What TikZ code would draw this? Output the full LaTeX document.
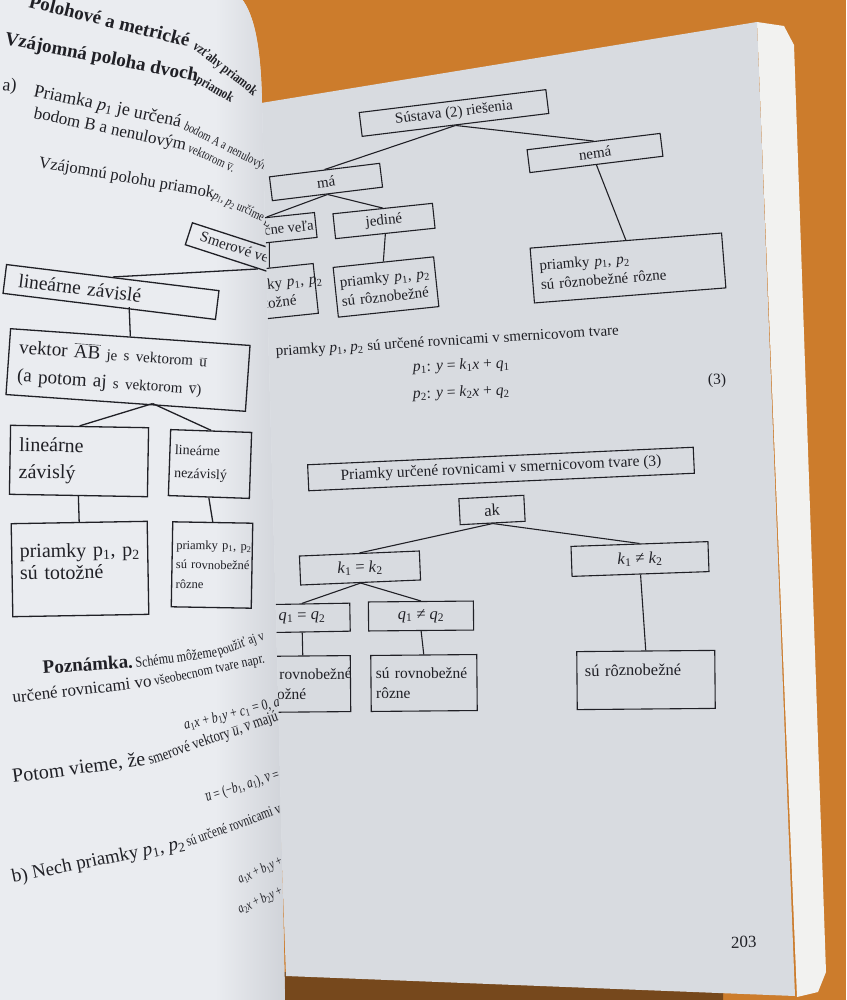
\documentclass[tikz,border=0pt]{standalone}
\usepackage{fontspec}
\setmainfont{Liberation Serif}
\usetikzlibrary{positioning}

\definecolor{wood}{RGB}{204,124,44}
\definecolor{wooddark}{RGB}{118,72,28}
\definecolor{rightpaper}{RGB}{216,219,224}
\definecolor{leftpaper}{RGB}{234,236,240}
\definecolor{leftedge}{RGB}{206,209,215}
\definecolor{pagestack}{RGB}{242,242,240}
\definecolor{ink}{RGB}{32,32,38}

\newcommand\fsz[2]{\fontsize{#1}{#2}\selectfont}
\newcommand\mv[2]{\textit{#1}\textsubscript{#2}}
\newcommand\vecbar[1]{$\overline{\mbox{#1}}$}

\begin{document}
\begin{tikzpicture}[
  x=1pt, y=-1pt,
  rbox/.style={draw=ink, line width=1.1pt, text=ink, inner sep=2pt},
  lbox/.style={draw=ink, line width=1.3pt, text=ink, inner sep=2pt},
  tie/.style={draw=ink, line width=1.1pt},
  ltie/.style={draw=ink, line width=1.3pt},
  rtxt/.style={text=ink, inner sep=0pt, anchor=base west},
  ltxt/.style={text=ink, inner sep=0pt, anchor=base west}
]
  \useasboundingbox (0,0) rectangle (846,1000);

  % Table and book block
  \fill[wood] (0,0) rectangle (846,1000);
  \fill[wooddark] (280,972) -- (723,990) -- (723,1000) -- (280,1000) -- cycle;
  \fill[pagestack] (757,22) -- (784,26) -- (794,45) -- (826,972) -- (818,992) -- (797,997) -- cycle;
  \fill[rightpaper] (255,104) -- (757,22) -- (795,996) -- (286,976) -- cycle;

  % Right page: top tree
  \node[rbox, rotate=7, minimum width=188, minimum height=24, font=\fsz{15}{18}] (sus) at (454,113) {Sústava (2) riešenia};
  \node[rbox, rotate=7, minimum width=134, minimum height=23, font=\fsz{15}{18}] (nema) at (595,153) {nemá};
  \node[rbox, rotate=7, minimum width=111, minimum height=24, font=\fsz{15}{18}] (ma) at (326,182) {má};
  \node[rbox, rotate=6, minimum width=96, minimum height=25, font=\fsz{14.5}{18}] (vela) at (268,230) {nekonečne veľa};
  \node[rbox, rotate=6, minimum width=100, minimum height=25, font=\fsz{15}{18}] (jed) at (384,221) {jediné};
  \node[rbox, rotate=6, minimum width=88, minimum height=50, inner xsep=5, text width=78, align=left, font=\fsz{15}{19}] (totr) at (272,293) {\mbox{priamky \mv{p}{1}, \mv{p}{2}}\\\mbox{sú totožné}};
  \node[rbox, rotate=6, minimum width=101, minimum height=50, inner xsep=5, text width=91, align=left, font=\fsz{15}{19}] (roz) at (386,287) {\mbox{priamky \mv{p}{1}, \mv{p}{2}}\\\mbox{sú rôznobežné}};
  \node[rbox, rotate=4.5, minimum width=192, minimum height=55, inner xsep=8, text width=176, align=left, font=\fsz{15}{19}] (rozr) at (628,268) {\mbox{priamky \mv{p}{1}, \mv{p}{2}}\\\mbox{sú rôznobežné rôzne}};

  \draw[tie] (sus.south) -- (ma.north);
  \draw[tie] (sus.south) -- (nema.north);
  \draw[tie] (ma.south) -- (vela.north);
  \draw[tie] (ma.south) -- (jed.north);
  \draw[tie] (vela.south) -- (totr.north);
  \draw[tie] (jed.south) -- (roz.north);
  \draw[tie] (nema.south) -- (rozr.north);

  % Right page: equations (3)
  \node[rtxt, rotate=3.5, font=\fsz{15}{18}] (intro) at (276,356) {priamky \mv{p}{1}, \mv{p}{2} sú určené rovnicami v smernicovom tvare};
  \node[rtxt, rotate=2.5, font=\fsz{15.5}{18}] (eqa) at (413,372) {\mv{p}{1}: \textit{y} = \mv{k}{1}\textit{x} + \mv{q}{1}};
  \node[rtxt, rotate=2.5, font=\fsz{15.5}{18}] (eqb) at (413,399) {\mv{p}{2}: \textit{y} = \mv{k}{2}\textit{x} + \mv{q}{2}};
  \node[rtxt, rotate=2.5, font=\fsz{15.5}{18}] (eqnum) at (708,385) {(3)};

  % Right page: bottom tree
  \node[rbox, rotate=2.6, minimum width=386, minimum height=26, font=\fsz{15.5}{18}] (smer3) at (501,469) {Priamky určené rovnicami v smernicovom tvare (3)};
  \node[rbox, rotate=3, minimum width=65, minimum height=26, font=\fsz{16.5}{20}] (ak) at (492,510) {ak};
  \node[rbox, rotate=2.4, minimum width=120, minimum height=29, font=\fsz{16.5}{20}] (keq) at (360,568) {\mv{k}{1} = \mv{k}{2}};
  \node[rbox, rotate=2, minimum width=137, minimum height=30, font=\fsz{16.5}{20}] (kne) at (640,559) {\mv{k}{1} ≠ \mv{k}{2}};
  \node[rbox, rotate=1, minimum width=96, minimum height=28, font=\fsz{16.5}{20}] (qeq) at (302,618) {\mv{q}{1} = \mv{q}{2}};
  \node[rbox, rotate=0.5, minimum width=105, minimum height=29, font=\fsz{16.5}{20}] (qne) at (421,616) {\mv{q}{1} ≠ \mv{q}{2}};
  \node[rbox, rotate=0.5, minimum width=95, minimum height=56, inner xsep=5, text width=85, align=left, font=\fsz{15.5}{20}] (rovtot) at (303,684) {\mbox{sú rovnobežné}\\\mbox{totožné}};
  \node[rbox, rotate=0.5, minimum width=106, minimum height=56, inner xsep=5, text width=96, align=left, font=\fsz{15.5}{20}] (rovroz) at (424,683) {\mbox{sú rovnobežné}\\\mbox{rôzne}};
  \node[rbox, rotate=0.5, minimum width=138, minimum height=58, inner xsep=8, text width=122, align=left, font=\fsz{16.5}{20}] (rozn) at (646,680) {\mbox{sú rôznobežné}\\\mbox{}};

  \draw[tie] (ak.south) -- (keq.north);
  \draw[tie] (ak.south) -- (kne.north);
  \draw[tie] (keq.south) -- (qeq.north);
  \draw[tie] (keq.south) -- (qne.north);
  \draw[tie] (qeq.south) -- (rovtot.north);
  \draw[tie] (qne.south) -- (rovroz.north);
  \draw[tie] (kne.south) -- (rozn.north);

  \node[rtxt, rotate=1, font=\fsz{17}{20}] (folio) at (731,948) {203};

  % Left page, curled over the gutter
  \begin{scope}
    \clip (-2,-2) -- (241,-2) .. controls (255,15) and (261,50) .. (262,103)
      .. controls (268,350) and (278,650) .. (285,1002) -- (-2,1002) -- cycle;
    \fill[leftpaper] (-2,-2) rectangle (290,1002);
    \shade[left color=leftpaper, right color=leftedge] (215,-2) rectangle (290,1002);

    % heading lines
    \node[ltxt, rotate=-14, font=\fsz{19}{22}\bfseries] (runhead) at (28,7) {Polohové a metrické};
    \node[ltxt, rotate=-38, xscale=.8, font=\fsz{14}{17}\bfseries] (runheadb) at (192,48) {vzťahy priamok};
    \node[ltxt, rotate=-11, font=\fsz{19}{22}\bfseries] (title) at (4,44) {Vzájomná poloha dvoch};
    \node[ltxt, rotate=-30, xscale=.8, font=\fsz{14}{17}\bfseries] (titleb) at (195,82) {priamok};
    \node[ltxt, rotate=-6, font=\fsz{18}{21}] (parta) at (2,90) {a)};
    \node[ltxt, rotate=-12, font=\fsz{18}{21}] (lineA) at (33,96) {Priamka \mv{p}{1} je určená};
    \node[ltxt, rotate=-27, xscale=.8, font=\fsz{13}{16}] (lineAb) at (183,129) {bodom A a nenulovým};
    \node[ltxt, rotate=-12, font=\fsz{17}{20}] (lineB) at (33,118) {bodom B a nenulovým};
    \node[ltxt, rotate=-25, xscale=.8, font=\fsz{13}{16}] (lineBb) at (187,151) {vektorom \vecbar{v}.};
    \node[ltxt, rotate=-10, font=\fsz{16.5}{20}] (lineC) at (38,167) {Vzájomnú polohu priamok};
    \node[ltxt, rotate=-25, xscale=.8, font=\fsz{13}{16}] (lineCb) at (212,198) {\mv{p}{1}, \mv{p}{2} určíme polohu};

    % scheme for direction vectors
    \node[lbox, anchor=north west, rotate=-18, minimum height=23, inner xsep=12, font=\fsz{15}{18}] (smer) at (192,222) {Smerové vektory \vecbar{u}, \vecbar{v}};
    \node[lbox, rotate=-7, minimum width=214, minimum height=29, inner xsep=14, text width=186, align=left, font=\fsz{19.5}{23}] (lzav) at (111,292) {lineárne závislé};
    \node[lbox, rotate=-4, minimum width=240, minimum height=66, inner xsep=10, text width=220, align=left, font=\fsz{19}{28}] (vek) at (128,370) {\mbox{vektor \vecbar{AB} {\fsz{15}{28}je s vektorom \vecbar{u}}}\\\mbox{(a potom aj {\fsz{15}{28}s vektorom \vecbar{v})}}};
    \node[lbox, rotate=-1, minimum width=138, minimum height=69, inner xsep=9, text width=120, align=left, font=\fsz{20}{27}] (lz) at (79,461) {\mbox{lineárne}\\\mbox{závislý}};
    \node[lbox, rotate=-2, minimum width=81, minimum height=66, inner xsep=5, text width=71, align=left, font=\fsz{14}{23}] (lnz) at (210,464) {\mbox{lineárne}\\\mbox{nezávislý}};
    \node[lbox, rotate=1, minimum width=136, minimum height=93, inner xsep=8, text width=120, align=left, font=\fsz{20}{22}] (tot) at (80,569) {\mbox{priamky p\textsubscript{1}, p\textsubscript{2}}\\\mbox{sú totožné}\\[-6pt]\mbox{}};
    \node[lbox, rotate=-1, minimum width=80, minimum height=85, inner xsep=4, text width=72, align=left, font=\fsz{12.5}{19.5}] (rovr) at (212,565) {\mbox{priamky p\textsubscript{1}, p\textsubscript{2}}\\\mbox{sú rovnobežné}\\\mbox{rôzne}};

    \draw[ltie] (lzav.north) -- (smer.south);
    \draw[ltie] ([xshift=20pt]lzav.south) -- (vek.north);
    \draw[ltie] ([xshift=27pt]vek.south) -- (lz.north);
    \draw[ltie] ([xshift=27pt]vek.south) -- (lnz.north);
    \draw[ltie] (lz.south) -- (tot.north);
    \draw[ltie] (lnz.south) -- (rovr.north);

    % note and part b)
    \node[ltxt, rotate=4, font=\fsz{19}{22}\bfseries] (note) at (43,674) {Poznámka.};
    \node[ltxt, rotate=8, xscale=.8, font=\fsz{15}{18}] (noteb) at (136,668) {Schému môžeme};
    \node[ltxt, rotate=20, xscale=.8, font=\fsz{14}{17}] (notec) at (219,656) {použiť aj v};
    \node[ltxt, rotate=6.6, font=\fsz{17}{20}] (gen) at (13,703) {určené rovnicami vo};
    \node[ltxt, rotate=12, xscale=.85, font=\fsz{14}{17}] (genb) at (155,686) {všeobecnom tvare napr.};
    \node[ltxt, rotate=14, xscale=.8, font=\fsz{15}{18}] (geneq) at (185,730) {\mv{a}{1}\textit{x} + \mv{b}{1}\textit{y} + \mv{c}{1} = 0, \mv{a}{1}};
    \node[ltxt, rotate=7.7, font=\fsz{20}{22}] (then) at (13,783) {Potom vieme, že};
    \node[ltxt, rotate=19, xscale=.8, font=\fsz{16}{18}] (thenb) at (150,765) {smerové vektory \vecbar{\textit{u}}, \vecbar{\textit{v}} majú};
    \node[ltxt, rotate=18, xscale=.75, font=\fsz{15}{18}] (dirv) at (207,802) {\vecbar{\textit{u}} = (−\mv{b}{1}, \mv{a}{1}), \vecbar{\textit{v}} = (};
    \node[ltxt, rotate=11.5, font=\fsz{19}{22}] (partb) at (13,883) {b) Nech priamky \mv{p}{1}, \mv{p}{2}};
    \node[ltxt, rotate=20, xscale=.75, font=\fsz{15}{18}] (partbb) at (188,847) {sú určené rovnicami v};
    \node[ltxt, rotate=25, xscale=.75, font=\fsz{14}{17}] (geneqa) at (240,884) {\mv{a}{1}\textit{x} + \mv{b}{1}\textit{y} + \mv{c}{1}};
    \node[ltxt, rotate=25, xscale=.75, font=\fsz{14}{17}] (geneqb) at (240,914) {\mv{a}{2}\textit{x} + \mv{b}{2}\textit{y} + \mv{c}{2}};
  \end{scope}
\end{tikzpicture}
\end{document}
